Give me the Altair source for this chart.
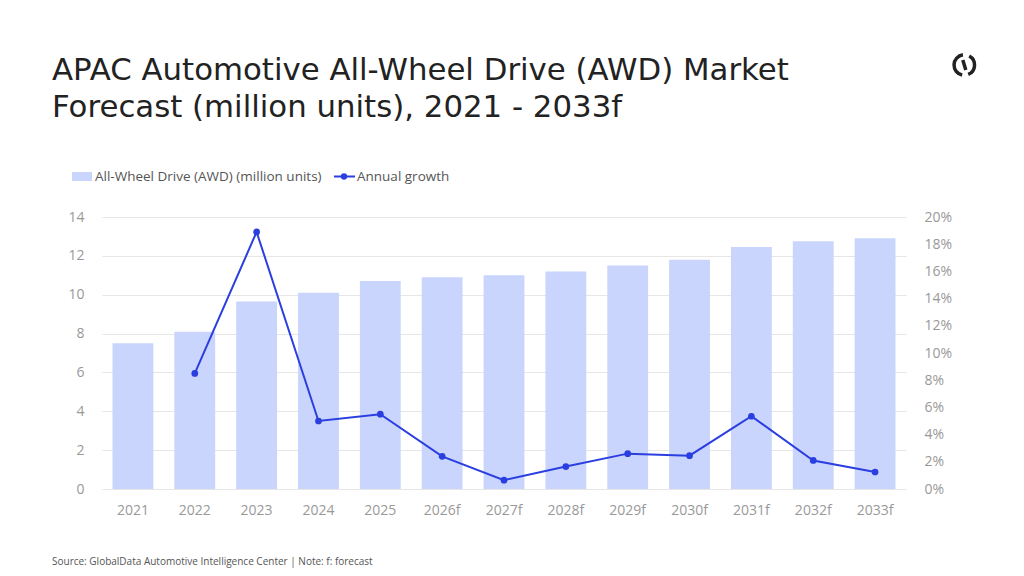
import altair as alt
import pandas as pd

years = ["2021", "2022", "2023", "2024", "2025", "2026f", "2027f", "2028f",
         "2029f", "2030f", "2031f", "2032f", "2033f"]
awd_units = [7.5, 8.1, 9.65, 10.1, 10.7, 10.9, 11.0, 11.2, 11.5, 11.8, 12.45, 12.75, 12.9]
growth_pct = [None, 8.5, 18.9, 5.0, 5.5, 2.4, 0.65, 1.65, 2.6, 2.45, 5.35, 2.1, 1.25]

title_lines = ["APAC Automotive All-Wheel Drive (AWD) Market",
               "Forecast (million units), 2021 - 2033f"]
legend_labels = ["All-Wheel Drive (AWD) (million units)", "Annual growth"]
source_text = "Source: GlobalData Automotive Intelligence Center | Note: f: forecast"

FONT = "Open Sans"
TITLE_FONT = "DejaVu Sans"
BAR_COLOR = "#C9D5FC"
LINE_COLOR = "#2B3EE0"
W, H = 804, 272

df = pd.DataFrame({"year": years, "units": awd_units, "growth": growth_pct})

xenc = alt.X("year:N", sort=years,
             scale=alt.Scale(paddingInner=0.34, paddingOuter=0.17),
             axis=alt.Axis(title=None, labelAngle=0, labelFontSize=14, labelColor="#999999",
                           labelFont=FONT, domain=False, ticks=False, labelPadding=14))

bars = alt.Chart(df).mark_bar(color=BAR_COLOR).encode(
    x=xenc,
    y=alt.Y("units:Q", scale=alt.Scale(domain=[0, 14]),
            axis=alt.Axis(title=None, values=list(range(0, 15, 2)), labelFontSize=14,
                          labelColor="#999999", labelFont=FONT, domain=False, ticks=False,
                          labelPadding=18, gridColor="#E6E6E6", gridWidth=1.2)),
)

gdf = df.dropna()
line = alt.Chart(gdf).mark_line(color=LINE_COLOR, strokeWidth=2,
                                point=alt.OverlayMarkDef(color=LINE_COLOR, size=45, filled=True, opacity=1)).encode(
    x=alt.X("year:N", sort=years),
    y=alt.Y("growth:Q", scale=alt.Scale(domain=[0, 20]),
            axis=alt.Axis(title=None, orient="right", values=list(range(0, 21, 2)),
                          labelExpr="datum.value + '%'", labelFontSize=14,
                          labelColor="#999999", labelFont=FONT, domain=False, ticks=False,
                          labelPadding=18, grid=False)),
)

one = alt.Data(values=[{}])

def text(t, x, y, size, color, weight="normal", font=FONT):
    return alt.Chart(one).mark_text(text=t, align="left", baseline="alphabetic", fontSize=size,
                                    color=color, font=font, fontWeight=weight).encode(
        x=alt.value(x), y=alt.value(y))

# page coords -> plot coords: x - 102, y - 217
def px(x):
    return x - 102

def py(y):
    return y - 217

t1 = text(title_lines[0], px(52), py(80), 30.8, "#222222", font=TITLE_FONT)
t2 = text(title_lines[1], px(52), py(117), 30.8, "#222222", font=TITLE_FONT)
src = text(source_text, px(52), py(565), 10, "#555555")

leg_rect = alt.Chart(one).mark_rect(color=BAR_COLOR).encode(
    x=alt.value(px(72)), x2=alt.value(px(92)), y=alt.value(py(172)), y2=alt.value(py(181)))
leg_t1 = text(legend_labels[0], px(95), py(181), 13.5, "#555555")
leg_line = alt.Chart(one).mark_rule(color=LINE_COLOR, strokeWidth=2).encode(
    x=alt.value(px(334)), x2=alt.value(px(355)), y=alt.value(py(176.5)))
leg_pt = alt.Chart(one).mark_point(color=LINE_COLOR, filled=True, size=40, opacity=1).encode(
    x=alt.value(px(344)), y=alt.value(py(176.5)))
leg_t2 = text(legend_labels[1], px(357), py(181), 13.5, "#555555")

# logo
cx, cy = px(964.3), py(65)
arcA = alt.Chart(one).mark_arc(radius=12, radius2=8.5, theta=3.35, theta2=6.15,
                               color="#222222").encode(x=alt.value(cx), y=alt.value(cy))
arcB = alt.Chart(one).mark_arc(radius=12, radius2=8.5, theta=0.5, theta2=2.75,
                               color="#222222").encode(x=alt.value(cx), y=alt.value(cy))
stub = alt.Chart(one).mark_rule(color="#222222", strokeWidth=3.5).encode(
    x=alt.value(cx - 1.5), x2=alt.value(cx + 1.5), y=alt.value(cy - 5), y2=alt.value(cy + 5))

chart = alt.layer(
    bars, line, t1, t2, src, leg_rect, leg_t1, leg_line, leg_pt, leg_t2, arcA, arcB, stub
).resolve_scale(y="independent").properties(
    width=W, height=H,
    autosize=alt.AutoSizeParams(type="none"),
    padding={"left": 94, "top": 209, "right": 110, "bottom": 79},
    background="white",
).configure_view(stroke=None)

chart.save("out.html", embed_options={"renderer": "svg", "actions": False})
